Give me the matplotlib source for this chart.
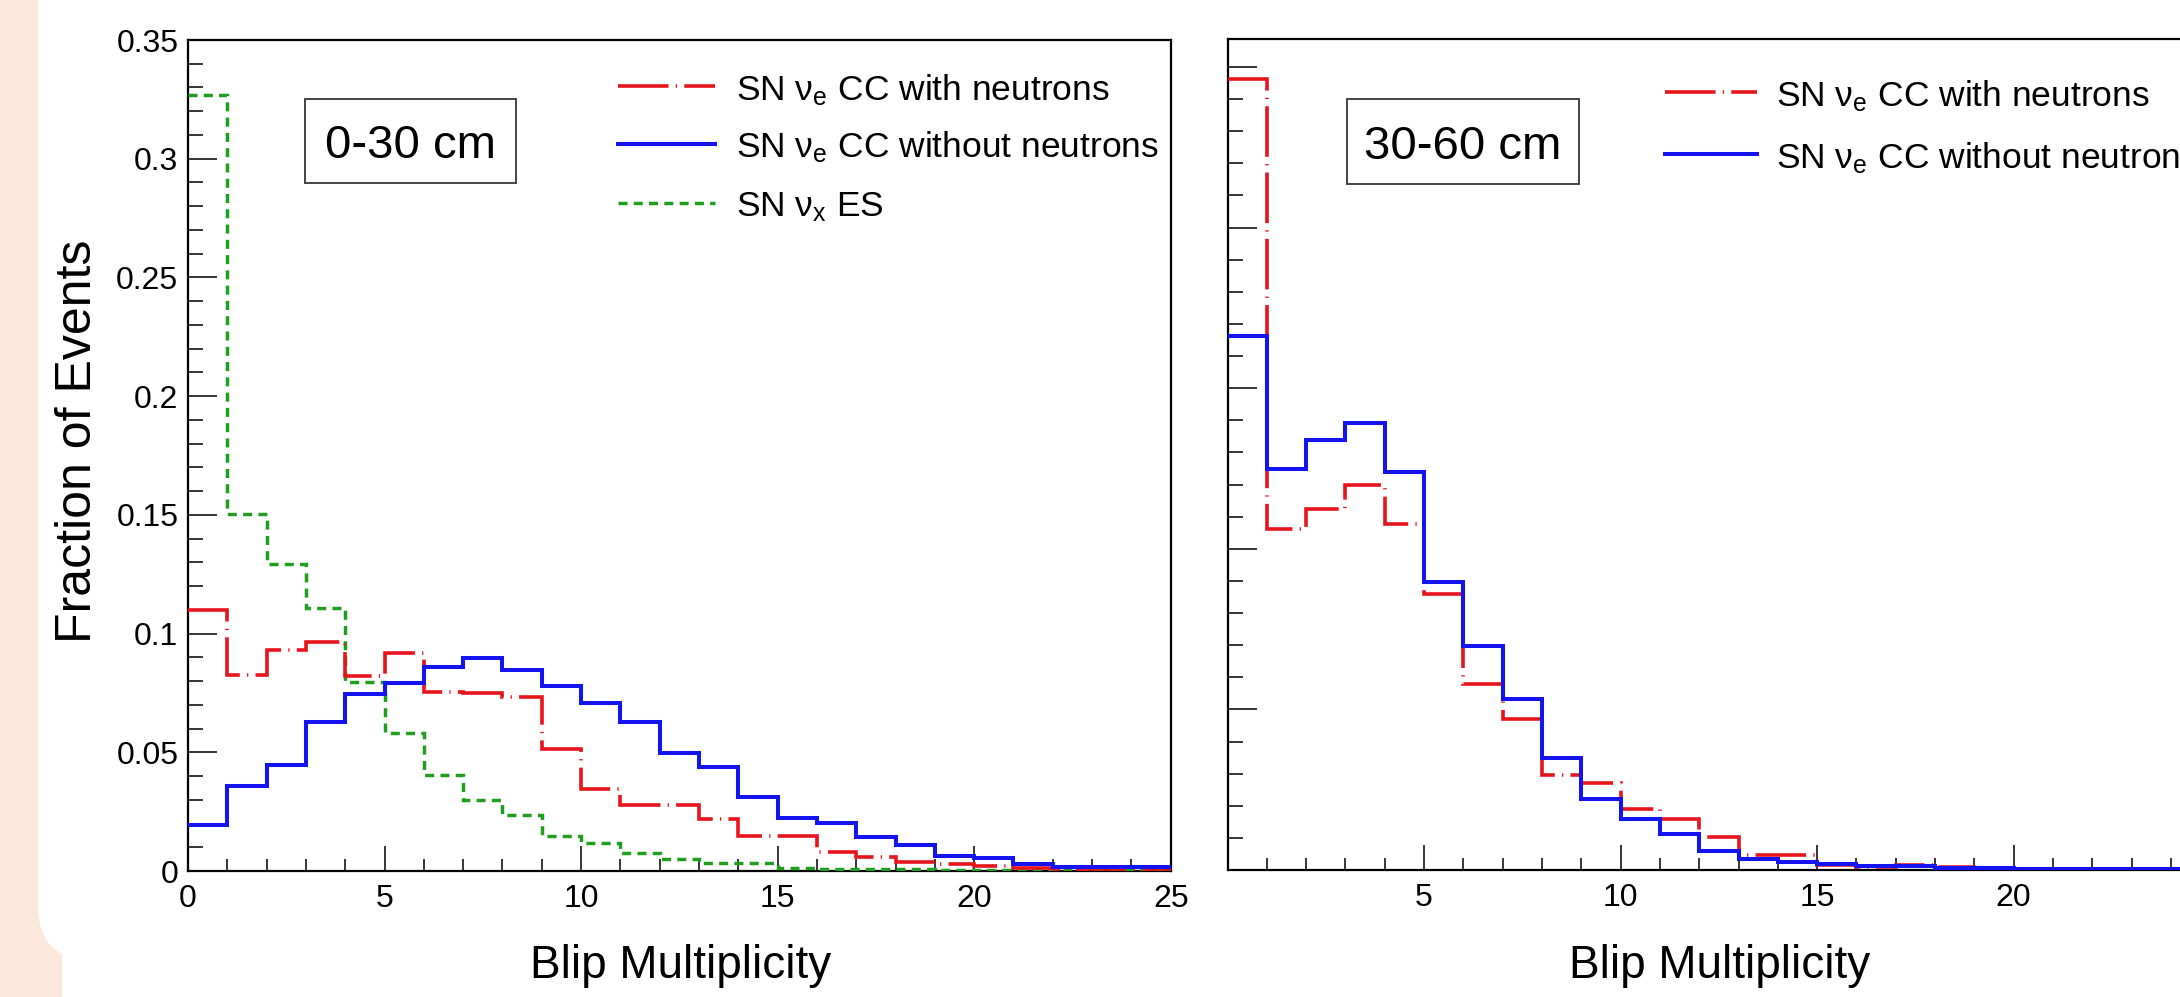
import matplotlib
matplotlib.use('Agg')
import matplotlib.pyplot as plt
import numpy as np
from matplotlib.patches import Rectangle, FancyBboxPatch
from matplotlib.lines import Line2D
from matplotlib.ticker import MultipleLocator, FixedLocator

plt.rcParams['font.family'] = ['Liberation Sans', 'DejaVu Sans']
plt.rcParams['mathtext.fontset'] = 'custom'
plt.rcParams['mathtext.rm'] = 'Liberation Sans'
plt.rcParams['mathtext.it'] = 'Liberation Sans'
plt.rcParams['mathtext.bf'] = 'Liberation Sans:bold'

# ---------------- data ----------------
bin_edges = np.arange(0, 26)

# 0-30 cm panel
near_with_neutrons = [0.110, 0.0825, 0.093, 0.0965, 0.0821, 0.092, 0.0754, 0.0751, 0.0734,
                      0.0515, 0.0345, 0.0277, 0.0277, 0.0218, 0.0147, 0.0147, 0.0081, 0.0060,
                      0.0039, 0.0031, 0.0021, 0.0014, 0.0007, 0.0007, 0.0007]
near_without_neutrons = [0.0193, 0.0357, 0.0445, 0.0627, 0.0744, 0.079, 0.086, 0.0899, 0.0846,
                         0.0779, 0.0708, 0.0627, 0.0496, 0.0438, 0.0313, 0.0225, 0.0204, 0.0143,
                         0.0108, 0.0063, 0.0056, 0.0031, 0.0017, 0.0017, 0.0017]
near_es = [0.327, 0.1505, 0.1293, 0.1106, 0.0795, 0.058, 0.0406, 0.0297, 0.0234, 0.0147,
           0.0117, 0.0077, 0.0052, 0.0035, 0.0032, 0.0014, 0.0010, 0.0010, 0.0010, 0.0004,
           0.0004, 0.0004, 0.0004, 0.0004, 0.0004]

# 30-60 cm panel
far_with_neutrons = [0.2464, 0.1062, 0.1124, 0.120, 0.1078, 0.086, 0.0579, 0.0469, 0.0296,
                     0.027, 0.0189, 0.016, 0.0102, 0.0046, 0.0047, 0.0016, 0.0010, 0.0016,
                     0.0008, 0.0003, 0.0003, 0.0003, 0.0003, 0.0003, 0.0003]
far_without_neutrons = [0.1661, 0.1248, 0.1338, 0.1391, 0.1238, 0.0896, 0.0697, 0.0531, 0.0348,
                        0.022, 0.0158, 0.0112, 0.006, 0.0033, 0.0024, 0.0018, 0.0013, 0.0013,
                        0.0007, 0.0007, 0.0003, 0.0003, 0.0003, 0.0003, 0.0003]

label_with = 'SN ν$_{\\mathrm{e}}$ CC with neutrons'
label_without = 'SN ν$_{\\mathrm{e}}$ CC without neutrons'
label_es = 'SN ν$_{\\mathrm{x}}$ ES'
panel_left_title = '0-30 cm'
panel_right_title = '30-60 cm'
x_label = 'Blip Multiplicity'
y_label = 'Fraction of Events'
left_xticks = [0, 5, 10, 15, 20, 25]
right_xticks = [5, 10, 15, 20]

# ---------------- style ----------------
W, H = 2180, 997
RED = '#e8141c'
BLUE = '#1414f0'
GREEN = '#1f9e1f'
red_style = dict(color=RED, linewidth=2.6, linestyle=(0, (14, 2.0, 0.35, 2.0)))
blue_style = dict(color=BLUE, linewidth=2.9, linestyle='-')
green_style = dict(color=GREEN, linewidth=2.5, linestyle=(0, (2.6, 1.8)))


def fx(px):
    return px / W


def fy(py):
    return 1 - py / H


fig = plt.figure(figsize=(W / 100, H / 100), dpi=100, facecolor='white')

# peach slide border on the left, with a rounded inner corner at the bottom
fig.add_artist(Rectangle((0, 0), fx(62), 1, transform=fig.transFigure,
                         facecolor='#fde9db', edgecolor='none', zorder=-5))
fig.add_artist(Rectangle((fx(62), 0), 1, fy(960) + 0.01, transform=fig.transFigure,
                         facecolor='white', edgecolor='none', zorder=-4))
fig.add_artist(FancyBboxPatch((fx(38), fy(960)), fx(2400), 2,
                              boxstyle='round,pad=0,rounding_size=0.025',
                              mutation_aspect=W / H,
                              transform=fig.transFigure, facecolor='white',
                              edgecolor='none', zorder=-3))

axL = fig.add_axes([fx(188), fy(871), fx(982.7), (871 - 40) / H])
axR = fig.add_axes([fx(1227.5), fy(870), fx(982.7), (870 - 39) / H])


def style_axes(ax):
    for s in ax.spines.values():
        s.set_linewidth(1.6)
        s.set_color('black')
    ax.tick_params(axis='both', which='both', direction='in', top=False, right=False,
                   width=1.1, colors='black', labelsize=23)
    ax.tick_params(axis='x', which='major', length=18, pad=9)
    ax.tick_params(axis='x', which='minor', length=9)
    ax.tick_params(axis='y', which='major', length=21, pad=7)
    ax.tick_params(axis='y', which='minor', length=10.5)
    ax.xaxis.set_minor_locator(MultipleLocator(1))
    ax.yaxis.set_major_locator(MultipleLocator(0.05))
    ax.yaxis.set_minor_locator(MultipleLocator(0.01))
    ax.set_xlim(0, 25)


# left panel
style_axes(axL)
axL.set_ylim(0, 0.35)
axL.xaxis.set_major_locator(FixedLocator(left_xticks))
axL.set_xticklabels([str(t) for t in left_xticks])
axL.set_yticks([0, 0.05, 0.1, 0.15, 0.2, 0.25, 0.3, 0.35])
axL.set_yticklabels(['0', '0.05', '0.1', '0.15', '0.2', '0.25', '0.3', '0.35'])
axL.stairs(near_es, bin_edges, baseline=None, zorder=3, **green_style)
axL.stairs(near_with_neutrons, bin_edges, baseline=None, zorder=4, **red_style)
axL.stairs(near_without_neutrons, bin_edges, baseline=None, zorder=5, **blue_style)

# right panel
style_axes(axR)
axR.set_ylim(0, (870 - 39) / 3212.0)
axR.xaxis.set_major_locator(FixedLocator(right_xticks + [25]))
axR.set_xticklabels([str(t) for t in right_xticks] + [''])
axR.set_yticklabels([])
axR.stairs(far_with_neutrons, bin_edges, baseline=None, zorder=4, **red_style)
axR.stairs(far_without_neutrons, bin_edges, baseline=None, zorder=5, **blue_style)

# axis titles
fig.text(fx(681), fy(978), x_label, ha='center', va='baseline', fontsize=33)
fig.text(fx(1720), fy(978), x_label, ha='center', va='baseline', fontsize=33)
fig.text(fx(78), fy(441), y_label, ha='center', va='center', rotation=90, fontsize=36)

# panel labels in boxes
for (x0, x1, y0, y1, txt) in [(305, 516, 99, 183, panel_left_title),
                               (1346.6, 1578.9, 99.5, 183.7, panel_right_title)]:
    fig.add_artist(Rectangle((fx(x0), fy(y1)), fx(x1 - x0), (y1 - y0) / H,
                             transform=fig.transFigure, facecolor='white',
                             edgecolor='#444444', linewidth=1.4, zorder=6))
    fig.text(fx((x0 + x1) / 2), fy((y0 + y1) / 2 + 17), txt, ha='center', va='baseline',
             fontsize=34, zorder=7)


# legends
def legend_entry(xl0, xl1, xt, yline, style, text):
    fig.add_artist(Line2D([fx(xl0), fx(xl1)], [fy(yline), fy(yline)],
                          transform=fig.transFigure, zorder=7, **style))
    fig.text(fx(xt), fy(yline + 14), text, ha='left', va='baseline', fontsize=25.5, zorder=7)


legend_entry(618, 715, 736, 86, red_style, label_with)
legend_entry(618, 715, 736, 143.6, blue_style, label_without)
legend_entry(618, 715, 736, 202.6, green_style, label_es)

legend_entry(1665, 1757, 1776, 92.4, red_style, label_with)
legend_entry(1665, 1757, 1776, 154, blue_style, label_without)

fig.savefig('out.png', dpi=100, facecolor='white')
